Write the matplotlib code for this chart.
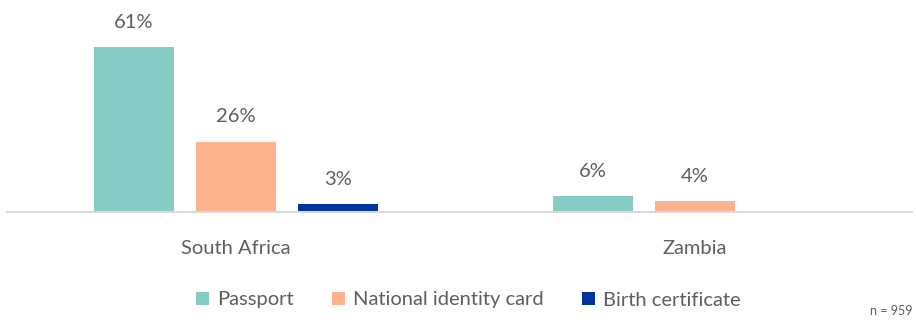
import matplotlib
matplotlib.use("Agg")
import matplotlib.pyplot as plt
import numpy as np

countries = ["South Africa", "Zambia"]
series_names = ["Passport", "National identity card", "Birth certificate"]
passport = [61, 6]
national_id = [26, 4]
birth_cert = [3, 0]
colors = ["#88CBC4", "#FDB48E", "#0033A0"]
sample_note = "n = 959"

plt.rcParams["font.family"] = ["Lato", "DejaVu Sans"]
text_color = "#5E5E5E"

W, H = 916, 325
fig = plt.figure(figsize=(W / 100, H / 100), dpi=100)
ax_left, ax_right = 7, 912
ax_top, ax_bottom = 22.6, 212
ax = fig.add_axes([ax_left / W, 1 - ax_bottom / H,
                   (ax_right - ax_left) / W, (ax_bottom - ax_top) / H])

x = np.arange(len(countries))
width = 0.174
step = 0.222
values = [passport, national_id, birth_cert]
for i, (name, vals, c) in enumerate(zip(series_names, values, colors)):
    pos = x + (i - 1) * step
    ax.bar(pos, vals, width=width, color=c, label=name)
    for px, v in zip(pos, vals):
        if v > 0:
            ax.text(px, v + 6.0, f"{v}%", ha="center", va="bottom",
                    fontsize=14.5, color=text_color)

ax.set_xlim(-0.499, 1.473)
ax.set_ylim(0, 70)
for s in ["top", "right", "left"]:
    ax.spines[s].set_visible(False)
ax.spines["bottom"].set_color("#D9D9D9")
ax.spines["bottom"].set_linewidth(1.5)
ax.set_yticks([])
ax.set_xticks(x)
ax.set_xticklabels(countries, fontsize=14.5, color=text_color)
ax.tick_params(axis="x", length=0, pad=20)

leg = fig.legend(loc="center", bbox_to_anchor=(468 / W, 1 - 300 / H), ncol=3,
                 frameon=False, prop={"size": 14.5},
                 handlelength=0.65, handleheight=0.65,
                 handletextpad=0.4, columnspacing=1.9)
for t in leg.get_texts():
    t.set_color(text_color)

fig.text(912 / W, 1 - 311 / H, sample_note, ha="right", va="center",
         fontsize=9, color=text_color)

fig.savefig("out.png", dpi=100)
